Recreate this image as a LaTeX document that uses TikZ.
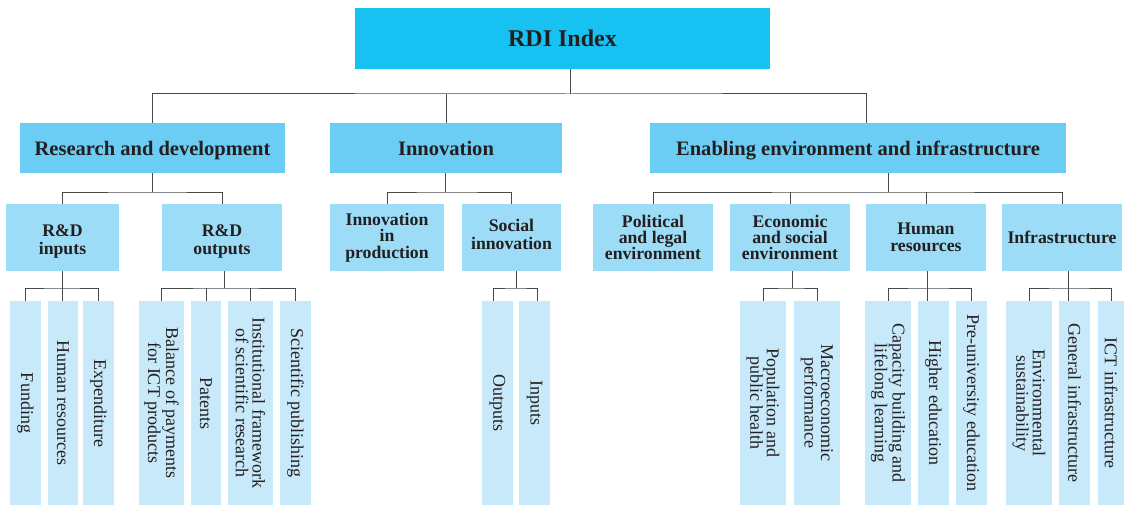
\documentclass[tikz,border=0pt]{standalone}
\usepackage{fontspec}
\setmainfont{Liberation Serif}
\newlength\pxl
\setlength\pxl{0.75pt}
\definecolor{rootc}{RGB}{23,193,242}
\definecolor{ltwoc}{RGB}{108,205,244}
\definecolor{lthreec}{RGB}{157,220,247}
\definecolor{leafc}{RGB}{199,233,249}
\definecolor{txtc}{RGB}{35,31,32}
\definecolor{linec}{RGB}{72,72,72}
\begin{document}
\begin{tikzpicture}[x={(0.75pt,0)}, y={(0,-0.75pt)},
  box/.style={inner sep=0pt, outer sep=0pt, text=txtc, align=center},
  rootbox/.style={box, fill=rootc, minimum width=415\pxl, minimum height=61\pxl,
    font=\fontsize{18}{20}\selectfont\bfseries},
  ltwo/.style={box, fill=ltwoc, minimum height=50\pxl, text height=14pt, text depth=3.5pt,
    font=\fontsize{15.4}{17}\selectfont\bfseries},
  lthree/.style={box, fill=lthreec, minimum height=67\pxl,
    font=\fontsize{13.3}{12.2}\selectfont\bfseries},
  leaf/.style={box, fill=leafc, rotate=-90, minimum width=204\pxl,
    font=\fontsize{13.5}{12.4}\selectfont},
  conn/.style={draw=linec, line width=0.75pt}]
\useasboundingbox (0,0) rectangle (1124,517);
% level 1
\node[rootbox] (root) at (562.5,38.5) {RDI Index};
% level 2
\node[ltwo, minimum width=265\pxl] (rd) at (152.5,148) {Research and development};
\node[ltwo, minimum width=232\pxl] (inn) at (446,148) {Innovation};
\node[ltwo, minimum width=416\pxl] (enab) at (858,148) {Enabling environment and infrastructure};
% level 3
\node[lthree, minimum width=113\pxl] (rdin) at (62.5,237.5) {\rule{0pt}{15pt}R\&D\\[1.5pt]inputs};
\node[lthree, minimum width=120\pxl] (rdout) at (222,237.5) {\rule{0pt}{15pt}R\&D\\[1.5pt]outputs};
\node[lthree, minimum width=114\pxl] (inprod) at (387,237.5) {Innovation\\in\\production};
\node[lthree, minimum width=99\pxl] (socin) at (511.5,237.5) {Social\\[1.5pt]innovation\rule[-4.5pt]{0pt}{4.5pt}};
\node[lthree, minimum width=120\pxl] (pol) at (653,237.5) {Political\\and legal\\environment};
\node[lthree, minimum width=120\pxl] (eco) at (790,237.5) {Economic\\and social\\environment};
\node[lthree, minimum width=120\pxl] (hum) at (926,237.5) {Human\\[1pt]resources};
\node[lthree, minimum width=120\pxl] (infra) at (1062,237.5) {Infrastructure};
% leaves
\node[leaf, minimum height=31\pxl] (fund) at (25.5,403) {Funding};
\node[leaf, minimum height=30\pxl] (hres) at (63,403) {Human resources};
\node[leaf, minimum height=31\pxl] (expd) at (98.5,403) {Expenditure};
\node[leaf, minimum height=45\pxl] (bal) at (161.5,403) {Balance of payments\\for ICT products};
\node[leaf, minimum height=30\pxl] (pat) at (206,403) {Patents};
\node[leaf, minimum height=45\pxl] (inst) at (250.5,403) {Institutional framework\\of scientific research};
\node[leaf, minimum height=31\pxl] (sci) at (295.5,403) {Scientific publishing};
\node[leaf, minimum height=31\pxl] (outp) at (497.5,403) {Outputs};
\node[leaf, minimum height=31\pxl] (inp) at (534.5,403) {Inputs};
\node[leaf, minimum height=46\pxl] (pop) at (763,403) {Population and\\public health};
\node[leaf, minimum height=46\pxl] (mac) at (817,403) {Macroeconomic\\performance};
\node[leaf, minimum height=46\pxl] (cap) at (888,403) {Capacity building and\\lifelong learning};
\node[leaf, minimum height=31\pxl] (high) at (933.5,403) {Higher education};
\node[leaf, minimum height=31\pxl] (pre) at (971.5,403) {Pre-university education};
\node[leaf, minimum height=46\pxl] (env) at (1029,403) {Environmental\\sustainability};
\node[leaf, minimum height=31\pxl] (gen) at (1074.5,403) {General infrastructure};
\node[leaf, minimum height=26\pxl] (ict) at (1111,403) {ICT infrastructure};
% junctions
\coordinate (j0) at (570,94);
\coordinate (jrd) at (152,192);
\coordinate (jinn) at (445,192);
\coordinate (jenab) at (888,192);
\coordinate (jrdin) at (62,288);
\coordinate (jrdout) at (224,288);
\coordinate (jsoc) at (516,288);
\coordinate (jeco) at (792,288);
\coordinate (jhum) at (927,288);
\coordinate (jinfra) at (1068,288);
% level 1 -> 2
\draw[conn] (root.south -| j0) -- (j0);
\draw[conn] (rd.north) |- (j0) -| ([xshift=8\pxl]enab.north);
\draw[conn] (inn.north) -- (inn.north |- j0);
% level 2 -> 3
\draw[conn] (rd.south -| jrd) -- (jrd);
\draw[conn] (rdin.north) |- (jrd) -| (rdout.north);
\draw[conn] (inn.south -| jinn) -- (jinn);
\draw[conn] (inprod.north) |- (jinn) -| (socin.north);
\draw[conn] (enab.south -| jenab) -- (jenab);
\draw[conn] (pol.north) |- (jenab) -| (infra.north);
\draw[conn] (eco.north) -- (eco.north |- jenab);
\draw[conn] (hum.north) -- (hum.north |- jenab);
% level 3 -> leaves
\draw[conn] (rdin.south -| jrdin) -- (jrdin);
\draw[conn] (fund.west) |- (jrdin) -| (expd.west);
\draw[conn] (hres.west -| jrdin) -- (jrdin);
\draw[conn] (rdout.south -| jrdout) -- (jrdout);
\draw[conn] (bal.west) |- (jrdout) -| (sci.west);
\draw[conn] (pat.west) -- (pat.west |- jrdout);
\draw[conn] (inst.west) -- (inst.west |- jrdout);
\draw[conn] (socin.south -| jsoc) -- (jsoc);
\draw[conn] ([xshift=-4.5\pxl]outp.west) |- (jsoc) -| ([xshift=2.5\pxl]inp.west);
\draw[conn] (eco.south -| jeco) -- (jeco);
\draw[conn] (pop.west) |- (jeco) -| (mac.west);
\draw[conn] (hum.south -| jhum) -- (jhum);
\draw[conn] (cap.west) |- (jhum) -| (pre.west);
\draw[conn] (high.west -| jhum) -- (jhum);
\draw[conn] (infra.south -| jinfra) -- (jinfra);
\draw[conn] (env.west) |- (jinfra) -| (ict.west);
\draw[conn] (gen.west -| jinfra) -- (jinfra);
\end{tikzpicture}
\end{document}
